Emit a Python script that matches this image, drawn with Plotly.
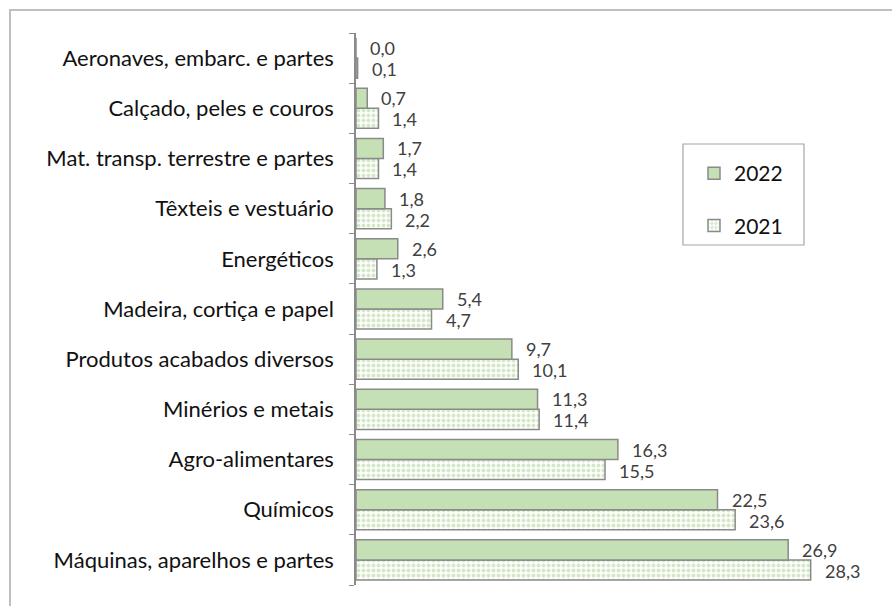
import plotly.graph_objects as go

categories = ["Máquinas, aparelhos e partes", "Químicos", "Agro-alimentares",
              "Minérios e metais", "Produtos acabados diversos", "Madeira, cortiça e papel",
              "Energéticos", "Têxteis e vestuário", "Mat. transp. terrestre e partes",
              "Calçado, peles e couros", "Aeronaves, embarc. e partes"]
values_2022 = [26.9, 22.5, 16.3, 11.3, 9.7, 5.4, 2.6, 1.8, 1.7, 0.7, 0.0]
values_2021 = [28.3, 23.6, 15.5, 11.4, 10.1, 4.7, 1.3, 2.2, 1.4, 1.4, 0.1]
series_names = ["2022", "2021"]

W, H = 892, 606
ML, MR, MT, MB = 356, 54, 33, 21
PW, PH = W - ML - MR, H - MT - MB

def px_x(p):
    return (p - ML) / PW

def px_y(p):
    return (H - MB - p) / PH

def fmt(v):
    return f"{v:.1f}".replace(".", ",")

line_col = "#8a8a8a"
fig = go.Figure()
fig.add_trace(go.Bar(
    y=categories, x=values_2021, name=series_names[1], orientation="h",
    legendgroup="b", legendrank=2,
    marker=dict(color="white", line=dict(color=line_col, width=1.5),
                pattern=dict(shape=".", fgcolor="#a9d08e", bgcolor="white",
                             size=5, solidity=0.5, fillmode="overlay")),
))
fig.add_trace(go.Bar(
    y=categories, x=values_2022, name=series_names[0], orientation="h",
    legendgroup="a", legendrank=1,
    marker=dict(color="#c5e0b4", line=dict(color=line_col, width=1.5)),
))

annotations = []
for c, v in zip(categories, values_2022):
    annotations.append(dict(x=v, y=c, xref="x", yref="y", text=fmt(v), showarrow=False,
                            xanchor="left", yanchor="middle", xshift=12, yshift=10,
                            font=dict(family="Lato", size=18, color="#404040")))
for c, v in zip(categories, values_2021):
    annotations.append(dict(x=v, y=c, xref="x", yref="y", text=fmt(v), showarrow=False,
                            xanchor="left", yanchor="middle", xshift=12, yshift=-11,
                            font=dict(family="Lato", size=18, color="#404040")))

shapes = [
    dict(type="rect", xref="paper", yref="paper",
         x0=px_x(10), x1=px_x(905), y0=px_y(620), y1=px_y(10),
         line=dict(color="#bfbfbf", width=2), fillcolor="rgba(0,0,0,0)", layer="below"),
    dict(type="rect", xref="paper", yref="paper",
         x0=px_x(683), x1=px_x(804), y0=px_y(245), y1=px_y(144),
         line=dict(color="#a6a6a6", width=1.2), fillcolor="white", layer="below"),
]

fig.update_layout(
    width=W, height=H,
    margin=dict(l=ML, r=MR, t=MT, b=MB),
    paper_bgcolor="white", plot_bgcolor="white",
    barmode="group", bargap=0.2, bargroupgap=0,
    font=dict(family="Lato", color="#111111"),
    xaxis=dict(visible=False, range=[0, 30]),
    yaxis=dict(categoryorder="array", categoryarray=categories,
               showline=True, linecolor=line_col, linewidth=1.5,
               ticks="outside", tickson="boundaries", ticklen=5, tickcolor=line_col,
               tickfont=dict(family="Lato", size=22, color="#111111"),
               ticklabelstandoff=16, showgrid=False),
    legend=dict(x=px_x(694), y=px_y(153), xanchor="left", yanchor="top",
                traceorder="grouped", tracegroupgap=22,
                bgcolor="rgba(0,0,0,0)", borderwidth=0,
                font=dict(family="Lato", size=21, color="#111111")),
    annotations=annotations, shapes=shapes,
)

fig.write_html("out.html", config={"displayModeBar": False},
               post_script="document.body.style.margin='0px';")
